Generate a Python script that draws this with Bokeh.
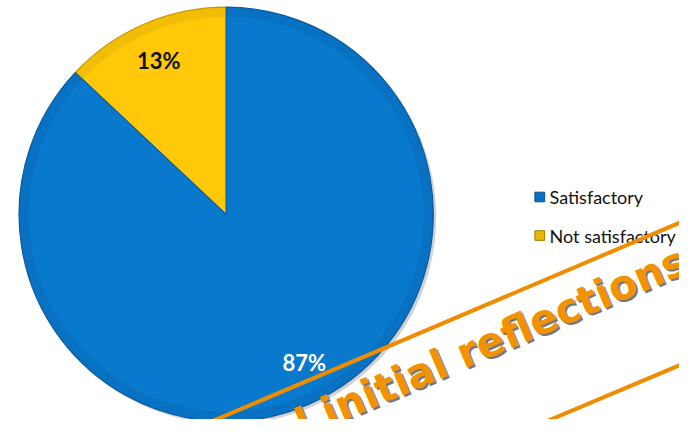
import math
from bokeh.plotting import figure
from bokeh.models import Range1d
from bokeh.core.properties import value
from bokeh.embed import file_html
from bokeh.resources import INLINE

# ---- data ----
categories = ["Not satisfactory", "Satisfactory"]   # drawn anticlockwise from 12 o'clock
shares = [13, 87]
labels = ["13%", "87%"]
colors = ["#FFC90A", "#0879CD"]
rim_colors = ["#C99A00", "#0A5CA3"]
label_colors = ["#111111", "#FFFFFF"]
legend_order = ["Satisfactory", "Not satisfactory"]
legend_colors = ["#0C6FC0", "#E8B800"]

# ---- layout ----
W, H = 679, 419
p = figure(width=W, height=H, x_range=Range1d(0, 695), y_range=Range1d(0, 435),
           output_backend="svg", toolbar_location=None, min_border=0)
p.axis.visible = False
p.grid.visible = False
p.outline_line_color = None
p.background_fill_color = "white"

cx, cy, r = 231, 213, 212
total = sum(shares)
starts, ends = [], []
a = math.pi / 2
for s in shares:
    starts.append(a)
    a += 2 * math.pi * s / total
    ends.append(a)

# drop shadow
p.circle(x=[cx + 3], y=[cy - 3], radius=r, fill_color="#000000", fill_alpha=0.18, line_color=None)
# slices
p.wedge(x=cx, y=cy, radius=r, start_angle=starts, end_angle=ends,
        fill_color=colors, line_color=rim_colors, line_width=1.2)
# bevel rim
p.annular_wedge(x=cx, y=cy, inner_radius=r - 10, outer_radius=r, start_angle=starts, end_angle=ends,
                fill_color=rim_colors, fill_alpha=0.25, line_color=None)

# labels
lab_angles = [(s + e) / 2 for s, e in zip(starts, ends)]
lab_angles[1] += math.radians(4)
lx = [cx + 0.82 * r * math.cos(t) for t in lab_angles]
ly = [cy + 0.82 * r * math.sin(t) for t in lab_angles]
p.text(x=lx, y=ly, text=labels, text_color=label_colors, text_font=value("Lato"),
       text_font_style="bold", text_font_size="22px", text_align="center", text_baseline="middle")

# legend
leg_x, leg_y0, leg_dy = 552, 231, 40
ly_leg = [leg_y0 - i * leg_dy for i in range(len(legend_order))]
p.rect(x=[leg_x] * 2, y=ly_leg, width=10, height=10, fill_color=legend_colors,
       line_color=["#0A4F8A", "#9A7A00"], line_width=1)
p.text(x=[leg_x + 10] * 2, y=ly_leg, text=legend_order, text_color="#111111",
       text_font=value("Lato"), text_font_size="18px", text_baseline="middle")

# overlay stamp
ang = math.radians(23.3)
p.segment(x0=[200, 540], y0=[-9, -10], x1=[720, 720], y1=[215, 67],
          line_color="#F08C00", line_width=4)
p.text(x=[306], y=[-8], text=["l initial reflections"], angle=ang, text_color="#777777",
       text_font=value("DejaVu Sans"), text_font_style="bold", text_font_size="41px",
       text_baseline="alphabetic")
p.text(x=[304], y=[-6], text=["l initial reflections"], angle=ang, text_color="#F39200",
       text_font=value("DejaVu Sans"), text_font_style="bold", text_font_size="41px",
       text_baseline="alphabetic")

open("out.html", "w").write(file_html(p, INLINE))
